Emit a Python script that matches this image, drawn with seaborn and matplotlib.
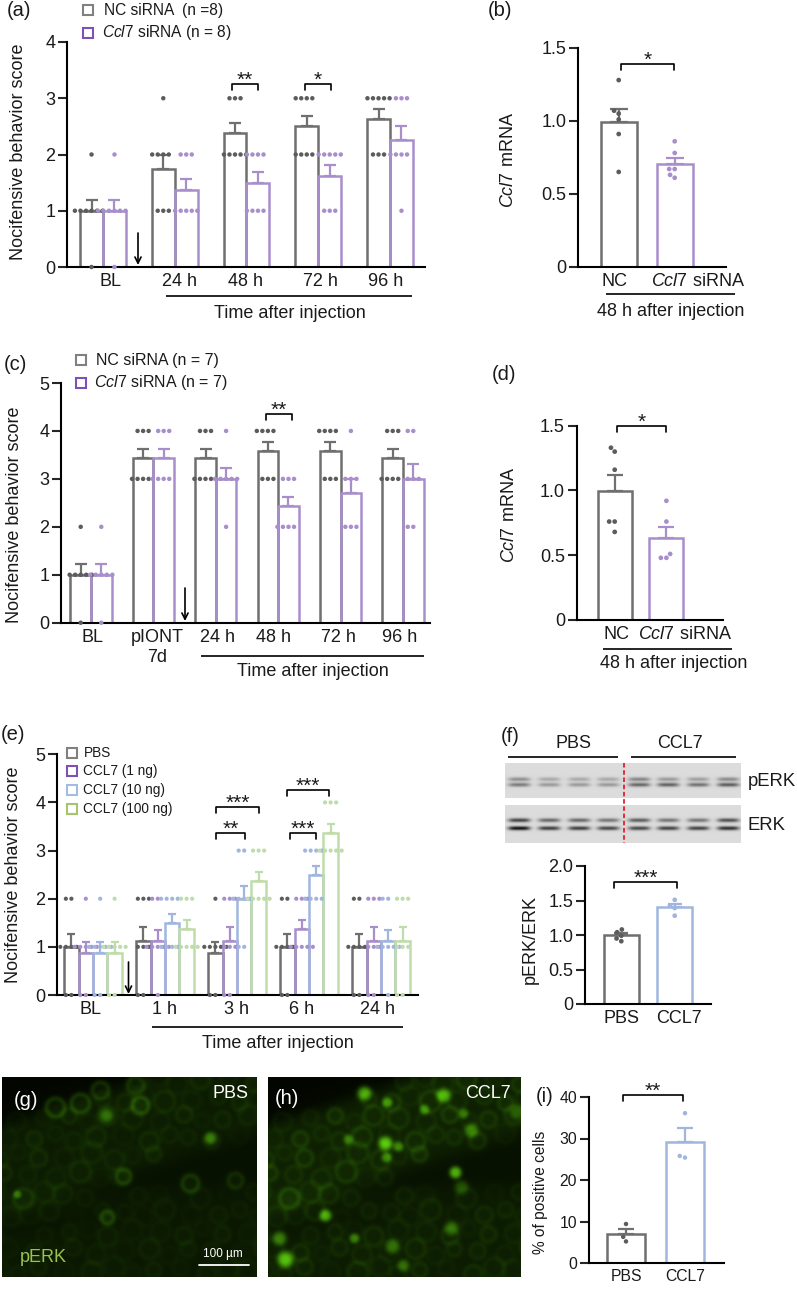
import numpy as np
import pandas as pd
import seaborn as sns
import matplotlib
matplotlib.use('Agg')
import matplotlib.pyplot as plt
from matplotlib.patches import Rectangle

W, H = 797, 1289

sns.set_theme(style='ticks')
plt.rcParams['font.family'] = ['Liberation Sans', 'DejaVu Sans']
plt.rcParams['mathtext.fontset'] = 'custom'
plt.rcParams['mathtext.it'] = 'Liberation Sans:italic'
plt.rcParams['mathtext.rm'] = 'Liberation Sans'

GRAY = '#6f6f6f'
PURPLE = '#a88fcc'
BLUE = '#a0b6de'
GREEN = '#bfdcaa'
DOT_GRAY = '#5c5c5c'
INK = '#1a1a1a'

# panel (a) scores per animal
a_times = ['BL', '24 h', '48 h', '72 h', '96 h']
a_nc = [[0, 1, 1, 1, 1, 1, 1, 2], [1, 1, 1, 2, 2, 2, 2, 3], [2, 2, 2, 2, 2, 3, 3, 3],
        [2, 2, 2, 2, 3, 3, 3, 3], [2, 2, 2, 3, 3, 3, 3, 3]]
a_ccl7 = [[0, 1, 1, 1, 1, 1, 1, 2], [1, 1, 1, 1, 1, 2, 2, 2], [1, 1, 1, 1, 2, 2, 2, 2],
          [1, 1, 1, 2, 2, 2, 2, 2], [1, 2, 2, 2, 2, 3, 3, 3]]

# panel (b)
b_names = ['NC', 'Ccl7 siRNA']
b_nc = [1.28, 1.07, 1.05, 1.01, 0.91, 0.65]
b_ccl7 = [0.86, 0.78, 0.67, 0.67, 0.63, 0.61]

# panel (c)
c_times = ['BL', 'pIONT\n7d', '24 h', '48 h', '72 h', '96 h']
c_nc = [[0, 1, 1, 1, 1, 1, 2], [3, 3, 3, 3, 4, 4, 4], [3, 3, 3, 3, 4, 4, 4],
        [3, 3, 3, 4, 4, 4, 4], [3, 3, 3, 4, 4, 4, 4], [3, 3, 3, 3, 4, 4, 4]]
c_ccl7 = [[0, 1, 1, 1, 1, 1, 2], [3, 3, 3, 3, 4, 4, 4], [2, 3, 3, 3, 3, 3, 4],
          [2, 2, 2, 2, 3, 3, 3], [2, 2, 2, 3, 3, 3, 4], [2, 2, 3, 3, 3, 4, 4]]

# panel (d)
d_nc = [1.33, 1.30, 1.16, 0.76, 0.76, 0.68]
d_ccl7 = [0.92, 0.76, 0.51, 0.48, 0.48]

# panel (e)
e_times = ['BL', '1 h', '3 h', '6 h', '24 h']
e_pbs = [[0, 0, 1, 1, 1, 1, 2, 2], [0, 0, 1, 1, 1, 2, 2, 2], [0, 0, 1, 1, 1, 1, 1, 2],
         [0, 0, 1, 1, 1, 1, 2, 2], [0, 0, 1, 1, 1, 1, 2, 2]]
e_1ng = [[0, 0, 1, 1, 1, 1, 1, 2], [0, 1, 1, 1, 1, 1, 2, 2], [0, 0, 1, 1, 1, 2, 2, 2],
         [1, 1, 1, 1, 1, 2, 2, 2], [0, 0, 1, 1, 1, 2, 2, 2]]
e_10ng = [[0, 0, 1, 1, 1, 1, 1, 2], [1, 1, 1, 1, 2, 2, 2, 2], [1, 1, 2, 2, 2, 2, 3, 3],
          [2, 2, 2, 2, 3, 3, 3, 3], [0, 1, 1, 1, 1, 1, 2, 2]]
e_100ng = [[0, 0, 1, 1, 1, 1, 1, 2], [1, 1, 1, 1, 1, 2, 2, 2], [2, 2, 2, 2, 2, 3, 3, 3],
           [3, 3, 3, 3, 3, 4, 4, 4], [0, 0, 1, 1, 1, 2, 2, 2]]

# panel (f)
f_names = ['PBS', 'CCL7']
f_pbs = [1.08, 1.04, 0.99, 0.95, 0.91]
f_ccl7 = [1.51, 1.43, 1.39, 1.28]

# panel (i)
i_pbs = [9.4, 6.3, 5.2]
i_ccl7 = [36.1, 25.8, 25.4]

# blot band strengths per lane
lane_x = [519, 549, 579, 608, 639, 668, 698, 728]
perk_upper = [0.30, 0.20, 0.20, 0.20, 0.34, 0.26, 0.24, 0.32]
perk_lower = [0.38, 0.26, 0.26, 0.26, 0.46, 0.48, 0.42, 0.50]
erk_upper = [0.60, 0.45, 0.45, 0.40, 0.50, 0.40, 0.40, 0.55]
erk_lower = [0.80, 0.62, 0.62, 0.58, 0.58, 0.60, 0.60, 0.68]

# micrograph cells: x, y, strength, radius
g_cells = [(106, 1115, .36, 7), (80, 1103, .14, 9), (55, 1107, .14, 9), (140, 1105, .16, 8),
           (210, 1138, .42, 6), (17, 1194, .34, 4), (123, 1176, .14, 7), (107, 1217, .15, 6),
           (190, 1183, .12, 8), (235, 1180, .09, 7), (100, 1090, .12, 8), (135, 1085, .10, 8)]
h_cells = [(364, 1093, .62, 7), (387, 1102, .5, 5), (443, 1095, .62, 7), (424, 1109, .42, 5),
           (463, 1113, .36, 5), (471, 1130, .42, 7), (348, 1139, .36, 5), (385, 1143, .72, 7),
           (398, 1146, .42, 5), (386, 1157, .42, 5), (455, 1172, .68, 6), (325, 1215, .62, 6),
           (354, 1238, .42, 5), (451, 1228, .34, 7), (285, 1259, .72, 8), (279, 1238, .42, 7),
           (392, 1246, .36, 7), (403, 1265, .34, 6), (461, 1187, .25, 7), (516, 1112, .25, 7)]

fig = plt.figure(figsize=(W / 100, H / 100), dpi=100)
ov = fig.add_axes([0, 0, 1, 1], zorder=5)
ov.set_axis_off()


def ptext(x, y, s, size=13, ha='center', va='center', color=INK, **kw):
    ov.text(x, y, s, fontsize=size, ha=ha, va=va, color=color, **kw)


def hline(x0, x1, y, lw=1.2):
    ov.plot([x0, x1], [y, y], color='black', lw=lw, solid_capstyle='butt')


def bracket(x0, x1, y, stars, drop=6):
    ov.plot([x0, x0, x1, x1], [y + drop, y, y, y + drop], color='black', lw=1.2)
    ptext((x0 + x1) / 2, y - 4, stars, size=15)


def arrow(x, y0, y1):
    ov.annotate('', xy=(x, y1), xytext=(x, y0),
                arrowprops=dict(arrowstyle='->', lw=1.2, color='black', mutation_scale=11, shrinkA=0, shrinkB=0))


def legend_box(x, y, color, label, size=11.5, side=10, tx=None):
    ov.add_patch(Rectangle((x, y), side, side, fill=False, ec=color, lw=1.5))
    ptext(tx if tx else x + side + 10, y + side / 2, label, size=size, ha='left')


def long_form(cats, series):
    rows = []
    for name, lists in series.items():
        for cat, vals in zip(cats, lists):
            rows += [(cat, name, v) for v in vals]
    return pd.DataFrame(rows, columns=['cat', 'group', 'score'])


def dots_for(color):
    return DOT_GRAY if color == GRAY else color


def bar_panel(left, right, top, bottom, ymax, c0, spacing, df, colors, width, cap, dot,
              yticks, yticklabels, ylabel, label_pos, labels, label_x, label_y, tick_size=13, label_size=13):
    ax = fig.add_axes([left / W, 1 - bottom / H, (right - left) / W, (bottom - top) / H], zorder=2)
    ax.patch.set_alpha(0)
    cats = list(df['cat'].unique())
    names = list(df['group'].unique())
    sns.barplot(data=df, x='cat', y='score', hue='group', order=cats, hue_order=names, errorbar=None,
                fill=False, width=width, palette=colors, linewidth=1.8, legend=False, ax=ax)
    nested = df.groupby('cat')['group'].nunique().max() == 1
    step = width / len(names)
    for i, cat in enumerate(cats):
        for j, name in enumerate(names):
            vals = df[(df['cat'] == cat) & (df['group'] == name)]['score']
            if vals.empty:
                continue
            pos = i if nested else i + (j - (len(names) - 1) / 2) * step
            ax.errorbar(pos, vals.mean(), yerr=[[0], [vals.sem()]], fmt='none', ecolor=colors[j],
                        elinewidth=1.6, capsize=cap, capthick=1.6)
            sns.swarmplot(x=[pos] * len(vals), y=vals.values, native_scale=True, orient='x',
                          color=dots_for(colors[j]), size=dot, linewidth=3.8 - dot, edgecolor='none',
                          clip_on=False, ax=ax, zorder=4)
    sns.despine(ax=ax)
    for side in ['left', 'bottom']:
        ax.spines[side].set_linewidth(1.5)
        ax.spines[side].set_color('black')
    ax.set_xlim((left - c0) / spacing, (right - c0) / spacing)
    ax.set_ylim(0, ymax)
    ax.set_yticks(yticks, yticklabels, fontsize=tick_size, color=INK)
    ax.set_xticks(label_pos, labels, fontsize=tick_size, color=INK)
    ax.tick_params(axis='y', length=6.5, width=1.5, pad=2)
    ax.tick_params(axis='x', length=0, pad=4.5)
    ax.set_xlabel('')
    ax.set_ylabel(ylabel, fontsize=label_size, color=INK, va='center', ha='center')
    ax.yaxis.set_label_coords(label_x, label_y, transform=ov.transData)
    return ax


def blot_strip(x0, x1, y0, y1, y_up, y_low, up, low):
    ys, xs = np.mgrid[y0:y1:0.5, x0:x1:0.5]
    img = np.full(xs.shape, 0.86)
    for cx, a, b in zip(lane_x, up, low):
        across = np.exp(-((xs - cx) / 11) ** 4)
        img -= a * across * np.exp(-((ys - y_up) / 2.0) ** 2)
        img -= b * across * np.exp(-((ys - y_low) / 2.0) ** 2)
    ov.imshow(img, cmap='gray', vmin=0, vmax=1, extent=(x0, x1, y1, y0), aspect='auto', interpolation='bilinear')


def soft(v, edge):
    return 1 / (1 + np.exp(-(v - edge) / 4.0))


def tissue(x, y, x0):
    # tissue bands of the section, top one slanted
    edge = 1125 - (x - x0) * 0.33
    top = soft(y, edge) * soft(edge + 90, y)
    mid = 0.55 * soft(y, 1192 - (x - x0) * 0.03) * soft(1224 - (x - x0) * 0.03, y)
    low = 0.7 * soft(y, 1232 - (x - x0) * 0.08)
    return top + mid + low


def micrograph(x0, x1, cells, faint, glow):
    ys, xs = np.mgrid[1077:1277, x0:x1].astype(float)
    edge = 1125 - (xs - x0) * 0.33
    val = 0.03 + 0.045 * soft(ys, edge) + glow * tissue(xs, ys, x0)
    # faint neurons on a staggered lattice
    for row, cy in enumerate(np.arange(1080, 1277, 19)):
        for col, cx in enumerate(np.arange(x0 - 6, x1 + 6, 23)):
            px = cx + 11 * (row % 2) + 4 * np.sin(row * 2.1 + col * 1.3)
            py = cy + 4 * np.cos(row * 1.7 + col * 2.3)
            weight = tissue(np.array(px), np.array(py), x0)
            if weight < 0.4:
                continue
            r = np.hypot(xs - px, ys - py)
            ring = 8.5 + 1.5 * np.sin(row + col)
            amp = faint * weight * (0.35 + 0.65 * np.sin(col * 1.9 + row) ** 2)
            val += amp * np.exp(-((r - ring) / 2.8) ** 2) + 0.5 * amp * np.exp(-(r / ring) ** 2)
    for cx, cy, amp, rad in cells:
        r = np.hypot(xs - cx, ys - cy)
        if amp < 0.2:
            val += amp * np.exp(-((r - rad) / 2.8) ** 2) + amp * 0.4 * np.exp(-(r / rad) ** 2)
        else:
            val += amp * np.exp(-(r / rad) ** 3)
    val = np.clip(val, 0, 1)
    rgb = np.dstack([val * 0.40, val * 0.90, val * 0.06])
    ov.imshow(rgb, extent=(x0, x1, 1277, 1077), aspect='auto', interpolation='bilinear')


# panel (a)
df_a = long_form(a_times, {'NC': a_nc, 'Ccl7': a_ccl7})
bar_panel(67, 425, 42, 267, 4, 103, 71.75, df_a, [GRAY, PURPLE], 0.64, 4.5, 3.2,
          [0, 1, 2, 3, 4], ['0', '1', '2', '3', '4'], 'Nocifensive behavior score',
          [0.11, 1.06, 1.99, 3.03, 3.94], a_times, 19, 152)

# panel (b)
df_b = pd.DataFrame({'cat': ['NC'] * len(b_nc) + ['Ccl7'] * len(b_ccl7), 'score': b_nc + b_ccl7})
df_b['group'] = df_b['cat']
bar_panel(578, 726, 48, 266.7, 1.5, 618.7, 56, df_b, [GRAY, PURPLE], 0.64, 6.5, 3.4,
          [0, 0.5, 1, 1.5], ['0', '0.5', '1.0', '1.5'], r'$\mathit{Ccl7}$ mRNA',
          [-0.07, 1.42], ['NC', r'$\mathit{Ccl7}$ siRNA'], 509, 160)

# panel (c)
df_c = long_form(c_times, {'NC': c_nc, 'Ccl7': c_ccl7})
bar_panel(61, 430, 383, 622.7, 5, 91, 62.4, df_c, [GRAY, PURPLE], 0.66, 4, 3.2,
          [0, 1, 2, 3, 4, 5], ['0', '1', '2', '3', '4', '5'], 'Nocifensive behavior score',
          [0.03, 1.06, 2.02, 2.92, 3.96, 4.94], c_times, 15, 515)

# panel (d)
df_d = pd.DataFrame({'cat': ['NC'] * len(d_nc) + ['Ccl7'] * len(d_ccl7), 'score': d_nc + d_ccl7})
df_d['group'] = df_d['cat']
bar_panel(576.7, 722.7, 425.7, 620, 1.5, 614.7, 51.7, df_d, [GRAY, PURPLE], 0.66, 6, 3.4,
          [0, 0.5, 1, 1.5], ['0', '0.5', '1.0', '1.5'], r'$\mathit{Ccl7}$ mRNA',
          [0.03, 1.35], ['NC', r'$\mathit{Ccl7}$ siRNA'], 510, 515)

# panel (e)
df_e = long_form(e_times, {'PBS': e_pbs, '1 ng': e_1ng, '10 ng': e_10ng, '100 ng': e_100ng})
bar_panel(57, 418, 754.3, 995, 5, 93, 72, df_e, [GRAY, PURPLE, BLUE, GREEN], 0.8, 3.2, 3.0,
          [0, 1, 2, 3, 4, 5], ['0', '1', '2', '3', '4', '5'], 'Nocifensive behavior score',
          [-0.03, 1.0, 1.99, 2.9, 3.95], e_times, 14, 875)

# panel (f)
df_f = pd.DataFrame({'cat': ['PBS'] * len(f_pbs) + ['CCL7'] * len(f_ccl7), 'score': f_pbs + f_ccl7})
df_f['group'] = df_f['cat']
bar_panel(585, 711, 866, 1004, 2, 621.3, 53.4, df_f, [GRAY, BLUE], 0.66, 5, 3.4,
          [0, 0.5, 1, 1.5, 2], ['0', '0.5', '1.0', '1.5', '2.0'], 'pERK/ERK',
          [0.01, 1.07], f_names, 530, 939)

# panel (i)
df_i = pd.DataFrame({'cat': ['PBS'] * len(i_pbs) + ['CCL7'] * len(i_ccl7), 'score': i_pbs + i_ccl7})
df_i['group'] = df_i['cat']
bar_panel(589, 724, 1097, 1263, 40, 626, 59, df_i, [GRAY, BLUE], 0.63, 6, 3.2,
          [0, 10, 20, 30, 40], ['0', '10', '20', '30', '40'], '% of positive cells',
          [0, 1], f_names, 541, 1192, tick_size=11.3, label_size=11.2)

# images
blot_strip(505, 741, 763, 798, 779, 784.5, perk_upper, perk_lower)
blot_strip(505, 741, 805, 843, 820, 828, erk_upper, erk_lower)
micrograph(2, 257, g_cells, 0.055, 0.04)
micrograph(268, 521, h_cells, 0.09, 0.06)
ov.plot([624, 624], [763, 843], color='#e0202a', lw=1.3, ls=(0, (2.5, 1.5)))
ov.set_xlim(0, W)
ov.set_ylim(H, 0)

# panel letters
for x, y, s in [(7, 11, '(a)'), (488, 11, '(b)'), (4, 365, '(c)'), (492, 375, '(d)'),
                (1, 735, '(e)'), (501, 736, '(f)'), (536, 1097, '(i)')]:
    ptext(x, y, s, size=14.5, ha='left')
ptext(14, 1100, '(g)', size=14.5, ha='left', color='white')
ptext(275, 1099, '(h)', size=14.5, ha='left', color='white')

# legends
legend_box(83, 5, '#808080', 'NC siRNA  (n =8)', size=11.2, tx=104)
legend_box(83, 28, '#7d52b4', r'$\mathit{Ccl7}$ siRNA (n = 8)', size=11.2, tx=102)
legend_box(76, 355, '#808080', 'NC siRNA (n = 7)', tx=96)
legend_box(76, 378, '#7d52b4', r'$\mathit{Ccl7}$ siRNA (n = 7)', tx=94)
legend_box(67, 748, '#808080', 'PBS', size=9.8, tx=84)
legend_box(67, 766, '#7d52b4', 'CCL7 (1 ng)', size=9.8, tx=83)
legend_box(67, 785, '#a4bce4', 'CCL7 (10 ng)', size=9.8, tx=83)
legend_box(67, 804, '#a7c46f', 'CCL7 (100 ng)', size=9.8, tx=83)

# arrows
arrow(138, 233, 265)
arrow(185, 588, 621)
arrow(128.5, 962, 994)

# significance
bracket(232, 258, 84, '**')
bracket(305, 331, 84, '*')
bracket(621, 674, 64, '*')
bracket(266, 292, 414, '**')
bracket(617, 666, 426, '*')
bracket(216, 245, 833, '**')
bracket(216, 259.5, 807, '***')
bracket(290, 316, 833, '***')
bracket(286.7, 329, 790, '***')
bracket(614, 677, 882, '***')
bracket(623, 683.5, 1095, '**')

# time captions
hline(166, 412, 296)
ptext(290, 314, 'Time after injection')
hline(606, 735, 294)
ptext(671, 312, '48 h after injection')
hline(201, 424, 655.7)
ptext(313, 671, 'Time after injection')
hline(603, 732, 649)
ptext(674, 664, '48 h after injection')
hline(152, 403, 1027)
ptext(278, 1043, 'Time after injection')

# blot labels
hline(508, 618, 756.5)
hline(631, 736, 756.5)
ptext(574, 744, 'PBS')
ptext(680, 744, 'CCL7')
ptext(748, 781, 'pERK', size=13.3, ha='left')
ptext(748, 825, 'ERK', size=13.3, ha='left')

# micrograph labels
ptext(249, 1094, 'PBS', ha='right', color='white')
ptext(511, 1094, 'CCL7', ha='right', color='white')
ptext(20, 1257, 'pERK', size=13, ha='left', color='#9ac24f')
ptext(223, 1254, '100 \u00b5m', size=8.5, color='white')
ov.plot([199, 249], [1265, 1265], color='white', lw=1.3)

fig.savefig('out.png', dpi=100)
